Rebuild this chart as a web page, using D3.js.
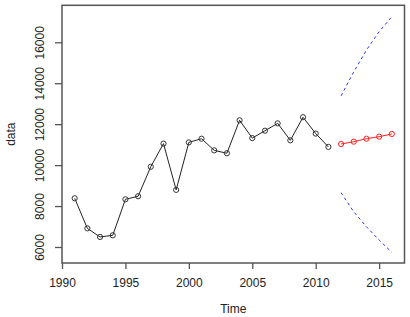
<!DOCTYPE html>
<html>
<head>
<meta charset="utf-8">
<script src="https://cdn.jsdelivr.net/npm/d3@7"></script>
<style>
  html, body { margin: 0; padding: 0; background: #fff; }
  svg { display: block; font-family: "Liberation Sans", Arial, sans-serif; }
</style>
</head>
<body>
<svg id="chart" width="410" height="317"></svg>
<script>
// Observed series
const years = [1991,1992,1993,1994,1995,1996,1997,1998,1999,2000,2001,2002,2003,2004,2005,2006,2007,2008,2009,2010,2011];
const values = [8380,6910,6490,6570,8330,8480,9920,11050,8790,11110,11290,10720,10580,12190,11320,11680,12040,11210,12340,11540,10890];
// Forecast
const fcYears = [2012,2013,2014,2015,2016];
const fcValues = [11030,11145,11290,11390,11520];
const fcUpper = [13380,14560,15620,16520,17250];
const fcLower = [8650,7720,6990,6340,5740];
// Ticks
const xTicks = [1990,1995,2000,2005,2010,2015];
const yTicks = [6000,8000,10000,12000,14000,16000];

const svg = d3.select("#chart");
const L = 62, R = 404.5, T = 5.3, B = 263;

const x = d3.scaleLinear().domain([1990, 2017]).range([L, R]);
const y = d3.scaleLinear().domain([5218, 17807]).range([B, T]);

const axisColor = "#555";
const textColor = "#222";

// x axis
const xAxis = svg.append("g").attr("transform", `translate(0,${B})`)
  .call(d3.axisBottom(x).tickValues(xTicks).tickFormat(d3.format("d")).tickSize(6).tickSizeOuter(0));
xAxis.select(".domain").remove();
xAxis.selectAll(".tick line").attr("stroke", axisColor).attr("stroke-width", 1.3);
xAxis.selectAll(".tick text").attr("fill", textColor).attr("font-size", 12)
  .attr("y", 0).attr("dy", 0)
  .attr("transform", "translate(0,24)");

// y axis
const yAxis = svg.append("g").attr("transform", `translate(${L},0)`)
  .call(d3.axisLeft(y).tickValues(yTicks).tickFormat(d3.format("d")).tickSize(7).tickSizeOuter(0));
yAxis.select(".domain").remove();
yAxis.selectAll(".tick line").attr("stroke", axisColor).attr("stroke-width", 1.3);
yAxis.selectAll(".tick text").attr("fill", textColor).attr("font-size", 12)
  .attr("x", 0).attr("dy", 0).attr("text-anchor", "middle")
  .attr("transform", "translate(-18.5,0) rotate(-90)");

// box
svg.append("rect").attr("x", L).attr("y", T).attr("width", R - L).attr("height", B - T)
  .attr("fill", "none").attr("stroke", axisColor).attr("stroke-width", 1.5);

// axis titles
svg.append("text").attr("x", (L + R) / 2).attr("y", 313).attr("text-anchor", "middle")
  .attr("font-size", 12).attr("fill", textColor).text("Time");
svg.append("text").attr("transform", `translate(15,${(T + B) / 2}) rotate(-90)`)
  .attr("text-anchor", "middle").attr("font-size", 12).attr("fill", textColor).text("data");

const line = d3.line().x(d => x(d[0])).y(d => y(d[1]));

// observed
const obs = years.map((yr, i) => [yr, values[i]]);
svg.append("path").datum(obs).attr("d", line).attr("fill", "none").attr("stroke", "#222").attr("stroke-width", 1);
svg.selectAll("circle.obs").data(obs).enter().append("circle")
  .attr("class", "obs").attr("cx", d => x(d[0])).attr("cy", d => y(d[1])).attr("r", 2.6)
  .attr("fill", "none").attr("stroke", "#333").attr("stroke-width", 1);

// bands
const up = fcYears.map((yr, i) => [yr, fcUpper[i]]);
const lo = fcYears.map((yr, i) => [yr, fcLower[i]]);
[up, lo].forEach(b => {
  svg.append("path").datum(b).attr("d", line).attr("fill", "none")
    .attr("stroke", "#3333ff").attr("stroke-width", 1).attr("stroke-dasharray", "3,3");
});

// forecast
const fc = fcYears.map((yr, i) => [yr, fcValues[i]]);
svg.append("path").datum(fc).attr("d", line).attr("fill", "none").attr("stroke", "#ff2020").attr("stroke-width", 1);
svg.selectAll("circle.fc").data(fc).enter().append("circle")
  .attr("class", "fc").attr("cx", d => x(d[0])).attr("cy", d => y(d[1])).attr("r", 2.6)
  .attr("fill", "none").attr("stroke", "#ff2020").attr("stroke-width", 1);
</script>
</body>
</html>
